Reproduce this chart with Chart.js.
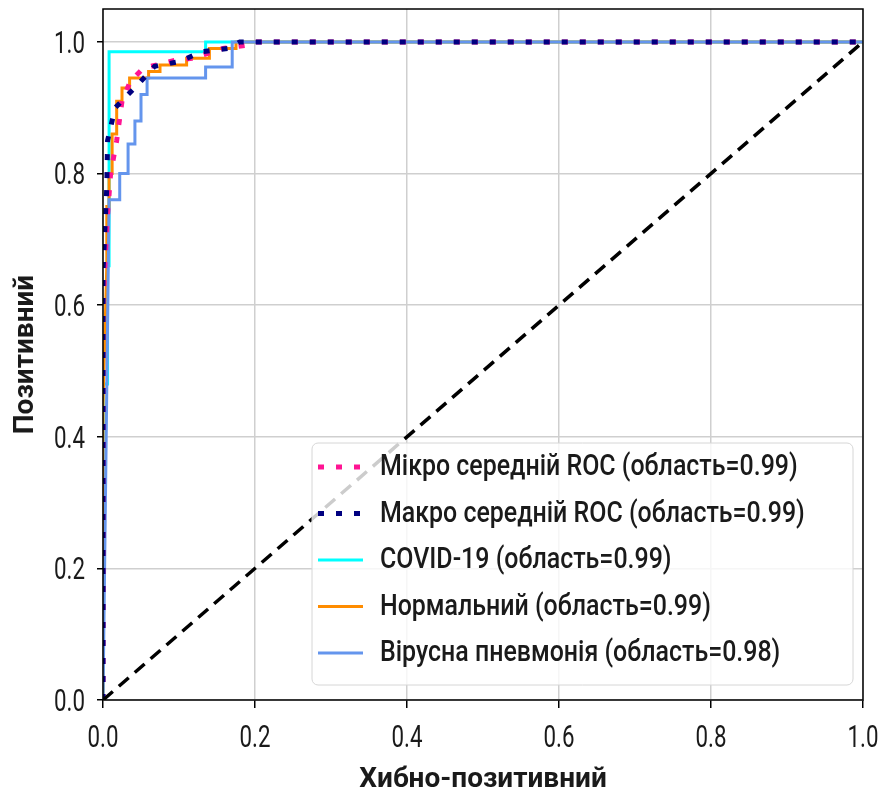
<!DOCTYPE html>
<html>
<head>
<meta charset="utf-8">
<script src="https://cdn.jsdelivr.net/npm/chart.js@4.4.0/dist/chart.umd.min.js"></script>
<style>
  html, body { margin: 0; padding: 0; background: #fff; }
  #wrap { width: 881px; height: 799px; }
</style>
</head>
<body>
<div id="wrap"><canvas id="roc"></canvas></div>
<script>
// tick labels
const tickLabels = ['0.0', '0.2', '0.4', '0.6', '0.8', '1.0'];

// ROC curves (false positive rate / true positive rate)
const microFpr = [0, 0, 0.005, 0.01, 0.018, 0.025, 0.036, 0.053, 0.095, 0.117, 0.158, 0.19, 0.2, 1];
const microTpr = [0, 0.6, 0.72, 0.80, 0.85, 0.91, 0.94, 0.96, 0.972, 0.975, 0.99, 0.995, 1, 1];

const macroFpr = [0, 0, 0.005, 0.006, 0.016, 0.045, 0.068, 0.1, 0.13, 0.165, 0.18, 1];
const macroTpr = [0, 0.65, 0.78, 0.85, 0.90, 0.934, 0.963, 0.97, 0.985, 0.99, 1, 1];

const covidFpr = [0, 0, 0.006, 0.006, 0.008, 0.008, 0.135, 0.135, 1];
const covidTpr = [0, 0.48, 0.48, 0.66, 0.66, 0.985, 0.985, 1, 1];

const normalFpr = [0, 0, 0.005, 0.005, 0.008, 0.008, 0.012, 0.012, 0.018, 0.018, 0.025, 0.025, 0.035, 0.035, 0.06, 0.06, 0.075, 0.075, 0.11, 0.11, 0.14, 0.14, 0.175, 0.175, 1];
const normalTpr = [0, 0.45, 0.66, 0.75, 0.75, 0.80, 0.80, 0.86, 0.86, 0.91, 0.91, 0.93, 0.93, 0.945, 0.945, 0.955, 0.955, 0.965, 0.965, 0.975, 0.975, 0.99, 0.99, 1, 1];

const viralFpr = [0, 0.008, 0.022, 0.022, 0.033, 0.033, 0.042, 0.042, 0.05, 0.05, 0.058, 0.058, 0.135, 0.135, 0.17, 0.17, 1];
const viralTpr = [0, 0.76, 0.76, 0.80, 0.80, 0.845, 0.845, 0.88, 0.88, 0.92, 0.92, 0.945, 0.945, 0.962, 0.962, 1, 1];

const chanceFpr = [0, 1];
const chanceTpr = [0, 1];

const toPoints = (xs, ys) => xs.map((x, i) => ({ x: x, y: ys[i] }));

function series(label, xs, ys, color, width, dash, order, inLegend) {
  return {
    label: label,
    data: toPoints(xs, ys),
    borderColor: color,
    backgroundColor: color,
    borderWidth: width,
    borderDash: dash,
    borderCapStyle: 'butt',
    pointRadius: 0,
    tension: 0,
    fill: false,
    order: order,
    inLegend: inLegend
  };
}

const datasets = [
  series('Мікро середній ROC (область=0.99)', microFpr, microTpr, '#ff1493', 5, [6, 12], 3, true),
  series('Макро середній ROC (область=0.99)', macroFpr, macroTpr, '#000080', 5, [6, 12], 2, true),
  series('COVID-19 (область=0.99)', covidFpr, covidTpr, '#00ffff', 3, [], 6, true),
  series('Нормальний (область=0.99)', normalFpr, normalTpr, '#ff8c00', 3, [], 5, true),
  series('Вірусна пневмонія (область=0.98)', viralFpr, viralTpr, '#6495ed', 3, [], 4, true),
  series('chance', chanceFpr, chanceTpr, '#000000', 3.5, [13, 8], 1, false)
];

// condensed text, like the narrow font of the original
function narrowText(ctx, text, x, y, align, sx) {
  ctx.save();
  ctx.translate(x, y);
  ctx.scale(sx, 1);
  ctx.textAlign = align;
  ctx.fillText(text, 0, 0);
  ctx.restore();
}

// black frame around the axes
const frame = {
  id: 'frame',
  afterDatasetsDraw(chart) {
    const { ctx, chartArea: a } = chart;
    ctx.save();
    ctx.strokeStyle = '#000';
    ctx.lineWidth = 1.5;
    ctx.strokeRect(a.left, a.top, a.right - a.left, a.bottom - a.top);
    ctx.restore();
  }
};

// tick labels taken from the chart's scales, drawn narrow
const tickText = {
  id: 'tickText',
  afterDraw(chart) {
    const { ctx } = chart;
    const xs = chart.scales.x, ys = chart.scales.y;
    ctx.save();
    ctx.font = '31px Roboto';
    ctx.fillStyle = '#1a1a1a';
    ctx.textBaseline = 'middle';
    xs.ticks.forEach((t, i) => narrowText(ctx, t.label, xs.getPixelForTick(i), xs.top + 39, 'center', 0.72));
    ys.ticks.forEach((t, i) => narrowText(ctx, t.label, ys.right - 18, ys.getPixelForTick(i) + 3, 'right', 0.72));
    ctx.restore();
  }
};

// matplotlib-like legend in the lower right corner
const rocLegend = {
  id: 'rocLegend',
  afterDraw(chart) {
    const { ctx, chartArea: a } = chart;
    const w = 541, h = 242;
    const x0 = a.right - 10 - w, y0 = a.bottom - 15 - h;
    ctx.save();
    ctx.beginPath();
    ctx.roundRect(x0, y0, w, h, 6);
    ctx.fillStyle = 'rgba(255,255,255,0.8)';
    ctx.fill();
    ctx.strokeStyle = '#d6d6d6';
    ctx.lineWidth = 1;
    ctx.stroke();

    const items = chart.data.datasets.filter(d => d.inLegend);
    ctx.font = '500 29px Roboto';
    ctx.textBaseline = 'middle';
    items.forEach((d, i) => {
      const y = y0 + 24 + i * 46.5;
      ctx.beginPath();
      ctx.setLineDash(d.borderDash);
      ctx.lineCap = 'butt';
      ctx.strokeStyle = d.borderColor;
      ctx.lineWidth = d.borderWidth;
      ctx.moveTo(x0 + 6, y);
      ctx.lineTo(x0 + 51, y);
      ctx.stroke();
      ctx.setLineDash([]);
      ctx.fillStyle = '#1a1a1a';
      narrowText(ctx, d.label, x0 + 68, y + 1, 'left', 0.86);
    });
    ctx.restore();
  }
};

const titleFont = { family: 'Roboto', size: 28, weight: 'bold' };

new Chart(document.getElementById('roc'), {
  type: 'line',
  data: { datasets: datasets },
  options: {
    responsive: true,
    maintainAspectRatio: false,
    animation: false,
    events: [],
    layout: { padding: { top: 9, right: 18, left: 0, bottom: 0 } },
    plugins: { legend: { display: false }, tooltip: { enabled: false } },
    scales: {
      x: {
        type: 'linear',
        min: 0,
        max: 1,
        afterFit: s => { s.height = 99; s.paddingLeft = 0; s.paddingRight = 0; },
        border: { display: false },
        grid: { color: '#cfcfcf', lineWidth: 1.5, tickLength: 8, tickColor: '#000', tickWidth: 1.5 },
        ticks: {
          display: false,
          stepSize: 0.2,
          callback: (v, i) => tickLabels[i]
        },
        title: { display: true, text: 'Хибно-позитивний', color: '#1a1a1a', font: titleFont, padding: { top: 0, bottom: 2 } }
      },
      y: {
        type: 'linear',
        min: 0,
        max: 1.05,
        afterFit: s => { s.width = 103; s.paddingTop = 0; s.paddingBottom = 0; },
        border: { display: false },
        grid: { color: '#cfcfcf', lineWidth: 1.5, tickLength: 6, tickColor: '#000', tickWidth: 1.5 },
        ticks: {
          display: false,
          stepSize: 0.2,
          includeBounds: false,
          callback: (v, i) => tickLabels[i]
        },
        title: { display: true, text: 'Позитивний', color: '#1a1a1a', font: titleFont, padding: { top: 9, bottom: 0 } }
      }
    }
  },
  plugins: [frame, tickText, rocLegend]
});
</script>
</body>
</html>
